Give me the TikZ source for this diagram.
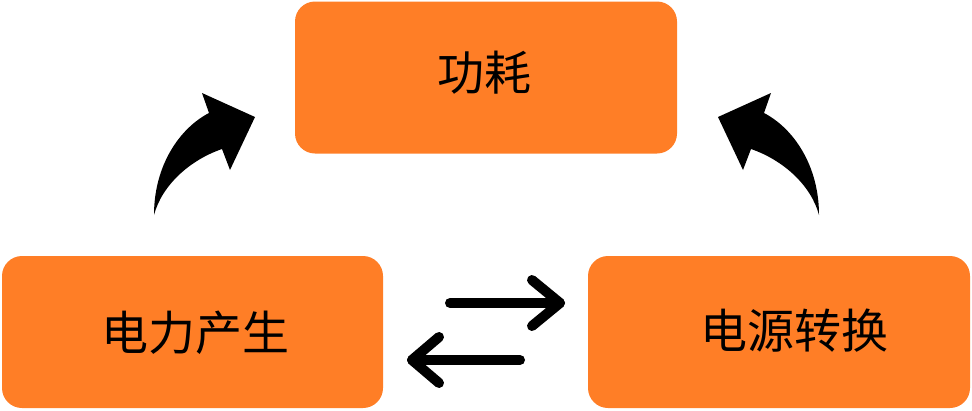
\documentclass[tikz,border=0pt]{standalone}
\usepackage{fontspec}
\newfontfamily\cjk{Noto Sans CJK SC}
\definecolor{boxorange}{RGB}{255,126,38}
\tikzset{
  orangebox/.style={fill=boxorange, draw=none, rounded corners=20pt, inner sep=0pt},
  boxtext/.style={font=\cjk\fontsize{47pt}{50pt}\selectfont, text=black, inner sep=0pt},
  bigcurve/.style={fill=black, draw=none},
  swaparrow/.style={draw=black, line width=10pt, line cap=round, line join=round}
}
\begin{document}
\begin{tikzpicture}[x=1pt,y=-1pt]
\useasboundingbox (0,0) rectangle (972,410);
% boxes
\node[orangebox, minimum width=382pt, minimum height=152pt] (top) at (486,77.5) {};
\node[orangebox, minimum width=381pt, minimum height=152pt] (left) at (192.5,332) {};
\node[orangebox, minimum width=382pt, minimum height=152pt] (right) at (779,332) {};
% texts
\node[boxtext] (toptext) at (484,73) {功耗};
\node[boxtext] (lefttext) at (195,333) {电力产生};
\node[boxtext] (righttext) at (794,331) {电源转换};
% curved arrows
\path[bigcurve] (154,215) .. controls (154,165) and (180,128) .. (209,113)
  -- (202,93) -- (255,117) -- (230,170) -- (222,149)
  .. controls (190,160) and (162,185) .. (154,215) -- cycle;
\path[bigcurve] (819,215) .. controls (819,165) and (793,128) .. (764,113)
  -- (771,93) -- (718,117) -- (743,170) -- (751,149)
  .. controls (783,160) and (811,185) .. (819,215) -- cycle;
% swap arrows
\coordinate (r0) at (450,303);
\coordinate (r1) at (560,303);
\coordinate (ra) at (532,280);
\coordinate (rb) at (532,326);
\coordinate (l0) at (520,360);
\coordinate (l1) at (412,360);
\coordinate (la) at (439,337);
\coordinate (lb) at (439,383);
\draw[swaparrow] (r0) -- (r1);
\draw[swaparrow] (ra) -- (r1) -- (rb);
\draw[swaparrow] (l0) -- (l1);
\draw[swaparrow] (la) -- (l1) -- (lb);
\end{tikzpicture}
\end{document}
